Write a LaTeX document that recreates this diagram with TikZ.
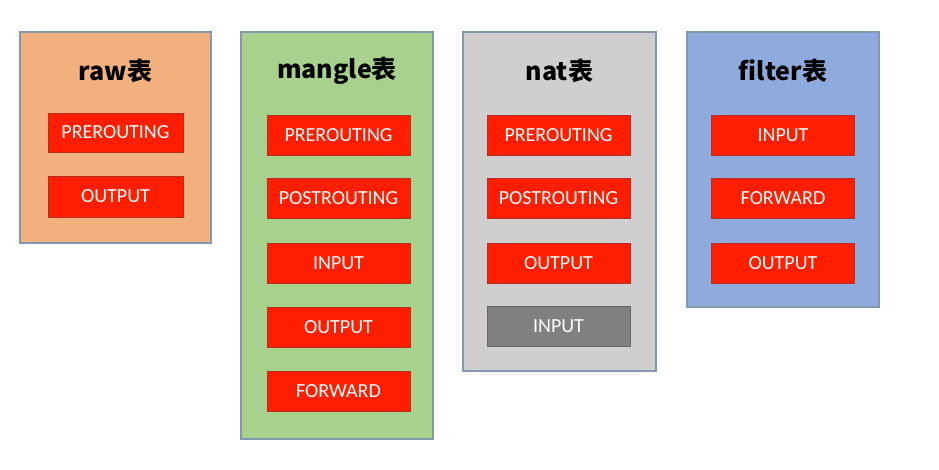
\documentclass[tikz,border=0pt]{standalone}
\usepackage{fontspec}
\setmainfont{Carlito}
\newfontfamily\cjktitle{Noto Sans CJK SC}
\definecolor{rawfill}{HTML}{F1B07E}
\definecolor{manglefill}{HTML}{A9D18E}
\definecolor{natfill}{HTML}{D0CECE}
\definecolor{filterfill}{HTML}{8FAADC}
\definecolor{tableedge}{HTML}{8497B0}
\definecolor{chainred}{HTML}{FF1F00}
\definecolor{chainedge}{HTML}{B5301E}
\definecolor{chaingrey}{HTML}{808080}
\begin{document}
\begin{tikzpicture}[x=1pt,y=-1pt,
  table/.style={draw=tableedge,line width=1.3pt,inner sep=0pt},
  title/.style={font=\cjktitle\bfseries\fontsize{25}{30}\selectfont},
  chain/.style={draw=chainedge,line width=0.8pt,fill=chainred,text=white,
    minimum width=143pt,minimum height=40pt,inner sep=0pt,
    font=\fontsize{20}{24}\selectfont},
  offchain/.style={chain,draw=chaingrey!80!black,fill=chaingrey}]
\useasboundingbox (0,0) rectangle (939,470);
% Draw tables
\node[table,fill=rawfill,minimum width=191pt,minimum height=211pt] (raw) at (115.5,137.5) {};
\node[table,fill=manglefill,minimum width=192pt,minimum height=407pt] (mangle) at (337,235.5) {};
\node[table,fill=natfill,minimum width=193pt,minimum height=339pt] (nat) at (559.5,201.5) {};
\node[table,fill=filterfill,minimum width=192pt,minimum height=275pt] (filter) at (783,169.5) {};
% Table names
\node[title] (rawname) at (115.5,71) {raw表};
\node[title] (manglename) at (337,71) {mangle表};
\node[title] (natname) at (559.5,71) {nat表};
\node[title] (filtername) at (783,71) {filter表};
% raw chains
\node[chain,minimum width=135pt,minimum height=39pt] (rawpre) at (115.5,132.5) {PREROUTING};
\node[chain,minimum width=135pt,minimum height=41pt] (rawout) at (115.5,196.5) {OUTPUT};
% mangle chains
\node[chain] (manglepre) at (338.5,135) {PREROUTING};
\node[chain] (manglepost) at (338.5,198.5) {POSTROUTING};
\node[chain] (manglein) at (338.5,263) {INPUT};
\node[chain] (mangleout) at (338.5,327) {OUTPUT};
\node[chain] (manglefwd) at (338.5,391.5) {FORWARD};
% nat chains
\node[chain] (natpre) at (558.5,135) {PREROUTING};
\node[chain] (natpost) at (558.5,198) {POSTROUTING};
\node[chain] (natout) at (558.5,263.5) {OUTPUT};
\node[offchain] (natin) at (558.5,326.5) {INPUT};
% filter chains
\node[chain] (filterin) at (783,135) {INPUT};
\node[chain] (filterfwd) at (783,198) {FORWARD};
\node[chain] (filterout) at (783,263.5) {OUTPUT};
\end{tikzpicture}
\end{document}
